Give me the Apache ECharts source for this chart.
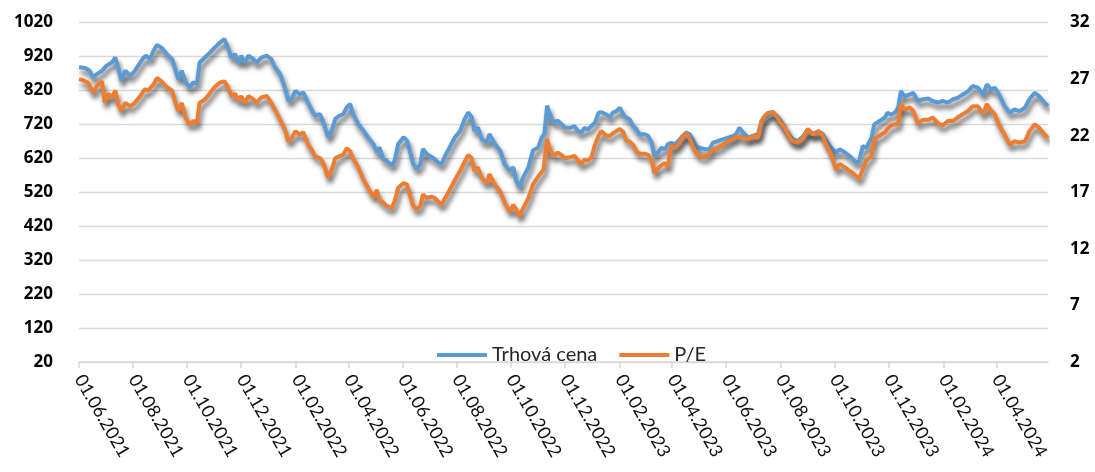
<!DOCTYPE html>
<html><head><meta charset="utf-8">
<script src="https://cdn.jsdelivr.net/npm/echarts@6/dist/echarts.min.js"></script>
<style>html,body{margin:0;padding:0;background:#fff}#c{width:1095px;height:472px}</style>
</head><body><div id="c"></div>
<script>
const seriesNames = ['Trhová cena', 'P/E'];
const tickLabels = ['01.06.2021','01.08.2021','01.10.2021','01.12.2021','01.02.2022','01.04.2022','01.06.2022','01.08.2022','01.10.2022','01.12.2022','01.02.2023','01.04.2023','01.06.2023','01.08.2023','01.10.2023','01.12.2023','01.02.2024','01.04.2024'];
const axisEndDate = '29.05.2024';

const priceDates = ['2021-06-01','2021-06-08','2021-06-13','2021-06-17','2021-06-21','2021-06-27','2021-07-02','2021-07-08','2021-07-12','2021-07-15','2021-07-19','2021-07-23','2021-07-29','2021-08-03','2021-08-09','2021-08-13','2021-08-16','2021-08-20','2021-08-24','2021-08-28','2021-09-02','2021-09-08','2021-09-14','2021-09-17','2021-09-21','2021-09-25','2021-09-29','2021-10-04','2021-10-08','2021-10-12','2021-10-15','2021-10-21','2021-10-27','2021-11-01','2021-11-07','2021-11-12','2021-11-16','2021-11-20','2021-11-24','2021-11-28','2021-12-01','2021-12-05','2021-12-09','2021-12-15','2021-12-18','2021-12-24','2021-12-30','2022-01-04','2022-01-08','2022-01-14','2022-01-19','2022-01-23','2022-01-27','2022-01-31','2022-02-05','2022-02-09','2022-02-15','2022-02-18','2022-02-22','2022-02-28','2022-03-03','2022-03-09','2022-03-13','2022-03-17','2022-03-22','2022-03-26','2022-03-30','2022-04-03','2022-04-06','2022-04-12','2022-04-18','2022-04-23','2022-04-29','2022-05-03','2022-05-06','2022-05-10','2022-05-14','2022-05-20','2022-05-23','2022-05-27','2022-06-02','2022-06-06','2022-06-09','2022-06-13','2022-06-17','2022-06-21','2022-06-24','2022-06-28','2022-07-04','2022-07-07','2022-07-11','2022-07-15','2022-07-19','2022-07-24','2022-07-30','2022-08-05','2022-08-10','2022-08-14','2022-08-18','2022-08-21','2022-08-25','2022-08-29','2022-09-04','2022-09-07','2022-09-13','2022-09-19','2022-09-24','2022-09-30','2022-10-04','2022-10-07','2022-10-11','2022-10-15','2022-10-21','2022-10-26','2022-11-01','2022-11-05','2022-11-08','2022-11-11','2022-11-14','2022-11-18','2022-11-23','2022-11-27','2022-12-01','2022-12-07','2022-12-12','2022-12-16','2022-12-20','2022-12-23','2022-12-27','2022-12-31','2023-01-04','2023-01-08','2023-01-11','2023-01-17','2023-01-21','2023-01-24','2023-01-28','2023-02-01','2023-02-05','2023-02-08','2023-02-12','2023-02-16','2023-02-20','2023-02-23','2023-03-01','2023-03-05','2023-03-09','2023-03-12','2023-03-16','2023-03-20','2023-03-24','2023-03-27','2023-03-31','2023-04-04','2023-04-08','2023-04-13','2023-04-17','2023-04-21','2023-04-25','2023-04-28','2023-05-02','2023-05-08','2023-05-13','2023-05-17','2023-05-23','2023-05-28','2023-06-03','2023-06-09','2023-06-12','2023-06-16','2023-06-20','2023-06-26','2023-07-01','2023-07-07','2023-07-11','2023-07-14','2023-07-18','2023-07-24','2023-07-28','2023-07-31','2023-08-04','2023-08-08','2023-08-12','2023-08-15','2023-08-21','2023-08-27','2023-09-01','2023-09-07','2023-09-13','2023-09-18','2023-09-22','2023-09-26','2023-09-29','2023-10-03','2023-10-07','2023-10-13','2023-10-18','2023-10-22','2023-10-26','2023-10-29','2023-11-02','2023-11-06','2023-11-12','2023-11-15','2023-11-21','2023-11-27','2023-11-30','2023-12-04','2023-12-08','2023-12-12','2023-12-15','2023-12-19','2023-12-25','2023-12-29','2024-01-03','2024-01-09','2024-01-15','2024-01-20','2024-01-26','2024-01-31','2024-02-06','2024-02-12','2024-02-17','2024-02-23','2024-02-29','2024-03-05','2024-03-11','2024-03-17','2024-03-21','2024-03-26','2024-03-30','2024-04-04','2024-04-10','2024-04-16','2024-04-21','2024-04-27','2024-05-03','2024-05-08','2024-05-14','2024-05-19','2024-05-25','2024-05-29'];
const priceValues = [888,886,878,858,868,878,893,902,917,888,848,878,863,878,902,917,922,912,937,954,946,927,912,888,853,878,844,829,844,839,902,917,932,946,961,971,946,917,927,902,922,902,922,912,902,917,922,912,888,868,829,790,795,819,809,814,780,765,746,750,731,682,701,736,746,750,770,780,750,721,701,682,662,638,652,618,613,599,613,662,682,672,643,603,589,603,648,633,623,618,608,603,628,652,682,701,736,755,741,701,711,677,667,692,662,643,603,584,594,554,535,564,594,643,652,682,692,775,750,726,731,721,711,710,715,700,696,710,705,715,725,754,756,749,740,754,759,769,749,740,735,715,705,691,691,686,666,627,637,651,647,661,666,661,671,686,696,691,671,656,651,647,647,666,671,676,681,686,691,710,696,681,686,691,730,740,749,756,745,735,720,700,686,676,671,686,705,691,700,691,671,656,647,637,647,637,627,617,607,612,656,651,681,720,730,740,754,749,754,769,818,803,808,813,789,794,796,789,784,789,784,794,798,808,818,833,828,808,838,823,828,808,774,754,764,759,769,794,813,803,784,774];

const peDates = ['2021-06-01','2021-06-06','2021-06-11','2021-06-17','2021-06-21','2021-06-27','2021-06-30','2021-07-04','2021-07-08','2021-07-12','2021-07-15','2021-07-19','2021-07-23','2021-07-29','2021-08-03','2021-08-09','2021-08-14','2021-08-18','2021-08-24','2021-08-28','2021-09-02','2021-09-08','2021-09-14','2021-09-17','2021-09-21','2021-09-25','2021-09-29','2021-10-04','2021-10-08','2021-10-12','2021-10-15','2021-10-21','2021-10-27','2021-11-01','2021-11-07','2021-11-12','2021-11-16','2021-11-20','2021-11-24','2021-11-28','2021-12-01','2021-12-05','2021-12-09','2021-12-15','2021-12-18','2021-12-24','2021-12-30','2022-01-04','2022-01-08','2022-01-14','2022-01-19','2022-01-23','2022-01-27','2022-01-31','2022-02-05','2022-02-09','2022-02-15','2022-02-18','2022-02-22','2022-02-28','2022-03-03','2022-03-09','2022-03-13','2022-03-17','2022-03-22','2022-03-26','2022-03-30','2022-04-03','2022-04-06','2022-04-12','2022-04-18','2022-04-23','2022-04-29','2022-05-03','2022-05-06','2022-05-10','2022-05-14','2022-05-20','2022-05-23','2022-05-27','2022-06-02','2022-06-06','2022-06-09','2022-06-13','2022-06-17','2022-06-21','2022-06-24','2022-06-28','2022-07-04','2022-07-07','2022-07-11','2022-07-15','2022-07-19','2022-07-24','2022-07-30','2022-08-05','2022-08-10','2022-08-14','2022-08-18','2022-08-21','2022-08-25','2022-08-29','2022-09-04','2022-09-07','2022-09-13','2022-09-19','2022-09-24','2022-09-30','2022-10-04','2022-10-07','2022-10-11','2022-10-15','2022-10-21','2022-10-26','2022-11-01','2022-11-07','2022-11-11','2022-11-14','2022-11-18','2022-11-23','2022-11-27','2022-12-01','2022-12-07','2022-12-12','2022-12-16','2022-12-20','2022-12-23','2022-12-27','2022-12-31','2023-01-04','2023-01-08','2023-01-11','2023-01-17','2023-01-21','2023-01-24','2023-01-28','2023-02-01','2023-02-05','2023-02-08','2023-02-12','2023-02-16','2023-02-20','2023-02-23','2023-03-01','2023-03-05','2023-03-09','2023-03-12','2023-03-16','2023-03-20','2023-03-24','2023-03-27','2023-03-31','2023-04-04','2023-04-08','2023-04-13','2023-04-17','2023-04-21','2023-04-25','2023-04-28','2023-05-02','2023-05-08','2023-05-13','2023-05-17','2023-05-23','2023-05-28','2023-06-03','2023-06-09','2023-06-12','2023-06-16','2023-06-20','2023-06-26','2023-07-01','2023-07-07','2023-07-11','2023-07-14','2023-07-18','2023-07-24','2023-07-28','2023-07-31','2023-08-04','2023-08-08','2023-08-12','2023-08-15','2023-08-21','2023-08-27','2023-09-01','2023-09-07','2023-09-13','2023-09-18','2023-09-22','2023-09-26','2023-09-29','2023-10-03','2023-10-07','2023-10-13','2023-10-18','2023-10-22','2023-10-26','2023-10-29','2023-11-02','2023-11-06','2023-11-12','2023-11-15','2023-11-21','2023-11-27','2023-11-30','2023-12-04','2023-12-08','2023-12-12','2023-12-15','2023-12-19','2023-12-25','2023-12-29','2024-01-03','2024-01-09','2024-01-15','2024-01-20','2024-01-26','2024-01-31','2024-02-06','2024-02-12','2024-02-17','2024-02-23','2024-02-29','2024-03-05','2024-03-11','2024-03-17','2024-03-21','2024-03-26','2024-03-30','2024-04-04','2024-04-10','2024-04-16','2024-04-21','2024-04-27','2024-05-03','2024-05-08','2024-05-14','2024-05-19','2024-05-25','2024-05-29'];
const peValues = [27.0,26.9,26.7,25.8,26.4,26.8,24.9,25.7,25.4,26.0,24.8,24.2,24.9,24.6,24.9,25.5,26.1,26.0,26.5,27.1,26.8,26.3,26.0,25.1,24.2,24.9,23.6,23.0,23.3,23.1,24.9,25.2,25.8,26.3,26.7,26.8,26.3,25.5,25.7,25.1,25.5,24.9,25.5,25.2,24.9,25.4,25.5,24.9,24.3,23.4,22.6,21.5,21.8,22.4,22.1,22.3,21.1,20.8,20.2,20.0,19.7,18.3,19.0,20.0,20.2,20.3,20.9,20.6,20.0,19.2,18.1,17.4,16.6,17.2,16.3,16.1,15.8,15.6,16.2,17.4,17.8,17.7,16.8,15.8,15.5,15.8,16.8,16.5,16.6,16.5,16.2,15.9,16.5,17.2,18.1,18.9,19.7,20.3,20.0,18.9,19.2,18.3,17.8,18.6,17.7,17.1,16.1,15.3,15.9,15.5,14.9,15.6,16.5,17.7,18.4,19.0,21.7,20.8,20.2,20.5,20.3,20.0,20.1,20.2,19.8,19.5,19.9,19.8,20.1,21.2,22.0,22.4,22.0,22.0,22.2,22.4,22.6,22.3,21.6,21.5,21.2,20.6,20.4,20.4,20.3,19.9,18.7,19.1,19.4,19.6,19.2,21.1,20.9,21.2,21.9,22.2,21.7,21.0,20.5,20.2,20.1,20.4,20.8,20.9,21.2,21.5,21.7,21.9,21.9,21.8,21.7,22.0,21.8,23.3,23.7,24.0,24.1,23.7,23.3,22.9,22.4,21.8,21.5,21.4,21.8,22.6,22.1,22.4,22.0,21.2,20.6,19.9,19.0,19.5,19.2,18.9,18.7,18.4,18.2,19.0,19.8,20.2,21.7,22.0,22.3,22.6,22.9,23.0,23.0,24.8,24.3,24.5,24.2,23.1,23.4,23.4,23.6,23.1,22.9,23.3,23.3,23.6,23.9,24.2,24.6,24.6,23.9,24.8,24.2,23.9,22.9,22.1,21.2,21.5,21.4,21.5,22.4,23.0,22.7,22.1,21.8];

function parseDMY(s) { const p = s.split('.').map(Number); return new Date(p[2], p[1] - 1, p[0]).getTime(); }
function parseISO(s) { const p = s.split('-').map(Number); return new Date(p[0], p[1] - 1, p[2]).getTime(); }
function pad(n) { return n < 10 ? '0' + n : '' + n; }
function fmtDate(v) { const d = new Date(v); return pad(d.getDate()) + '.' + pad(d.getMonth() + 1) + '.' + d.getFullYear(); }
const tickValues = tickLabels.map(parseDMY);

const shadow = { shadowColor: 'rgba(0,0,0,0.6)', shadowBlur: 5, shadowOffsetX: 2, shadowOffsetY: 5 };
const yLabelStyle = { fontWeight: 'bold', fontSize: 17, color: '#000', fontFamily: 'Noto Sans', formatter: v => String(v) };
const chart = echarts.init(document.getElementById('c'), null, { renderer: 'canvas' });
chart.setOption({
  animation: false,
  backgroundColor: '#ffffff',
  textStyle: { fontFamily: 'Lato' },
  grid: { left: 79, right: 47, top: 22.5, bottom: 110 },
  legend: {
    data: seriesNames, left: 437, top: 345, padding: 0,
    icon: 'rect', itemWidth: 50, itemHeight: 4, itemGap: 22,
    textStyle: { fontSize: 20, color: '#262626', fontFamily: 'Lato' }
  },
  xAxis: {
    type: 'value', min: tickValues[0], max: parseDMY(axisEndDate),
    axisLine: { lineStyle: { color: '#d9d9d9', width: 1.5 } },
    axisTick: { show: true, customValues: tickValues, length: 6, lineStyle: { color: '#d9d9d9', width: 1.5 } },
    axisLabel: { customValues: tickValues, formatter: fmtDate, rotate: -60, margin: 14, fontSize: 18, color: '#111', fontFamily: 'Lato', hideOverlap: false, showMinLabel: true, showMaxLabel: true },
    splitLine: { show: false }
  },
  yAxis: [
    { type: 'value', min: 20, max: 1020, interval: 100,
      axisLabel: Object.assign({ margin: 26 }, yLabelStyle),
      splitLine: { lineStyle: { color: '#d9d9d9', width: 1.3 } },
      axisLine: { show: false }, axisTick: { show: false } },
    { type: 'value', min: 2, max: 32, interval: 5, position: 'right',
      axisLabel: Object.assign({ margin: 22 }, yLabelStyle),
      splitLine: { show: false }, axisLine: { show: false }, axisTick: { show: false } }
  ],
  series: [
    { name: seriesNames[0], type: 'line', yAxisIndex: 0, symbol: 'none', z: 2,
      data: priceDates.map((d, i) => [parseISO(d), priceValues[i]]),
      itemStyle: { color: '#5B9BD5' },
      lineStyle: Object.assign({ color: '#5B9BD5', width: 4 }, shadow) },
    { name: seriesNames[1], type: 'line', yAxisIndex: 1, symbol: 'none', z: 3,
      data: peDates.map((d, i) => [parseISO(d), peValues[i]]),
      itemStyle: { color: '#ED7D31' },
      lineStyle: Object.assign({ color: '#ED7D31', width: 4 }, shadow) }
  ]
});
</script></body></html>
